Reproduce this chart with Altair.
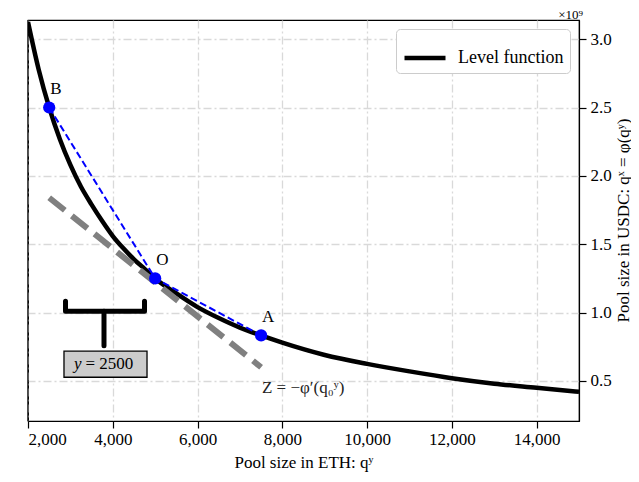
import altair as alt
import pandas as pd

FONT = "Liberation Serif"

# Level function (y in units of 1e9)
curve_x = [2000, 2250, 2500, 2750, 3000, 3250, 3500, 3750, 4000, 4250, 4500, 4750, 5000, 5500,
           6000, 6500, 7000, 7500, 8000, 9000, 10000, 11000, 12000, 13000, 14000, 15000]
curve_y = [3.125, 2.78, 2.50, 2.27, 2.08, 1.92, 1.79, 1.67, 1.56, 1.47, 1.39, 1.32, 1.25, 1.14,
           1.04, 0.96, 0.89, 0.833, 0.78, 0.69, 0.625, 0.57, 0.52, 0.48, 0.45, 0.42]

# Marked points
pt_label = ["B", "O", "A"]
pt_x = [2500, 5000, 7500]
pt_y = [2.50, 1.25, 0.833]

# Tangent line at O
tan_x = [2500, 7500]
tan_y = [1.84, 0.60]

# Bracket annotation
brk_x = [2885, 2885, 4749, 4749]
brk_y = [1.083, 1.010, 1.010, 1.083]
stem_x = [3793, 3793]
stem_y = [1.010, 0.758]
box_x = [2849, 4808]
box_y = [0.527, 0.718]
box_text_x = [3828]
box_text_y = [0.585]

# Tangent label
z_x = [7520]
z_y = [0.41]
z_text = ["Z = −φ′(q₀ʸ)"]

xscale = alt.Scale(domain=[2000, 15000], nice=False, zero=False)
yscale = alt.Scale(domain=[0.207, 3.14], nice=False, zero=False)

xaxis = alt.Axis(values=[2000, 4000, 6000, 8000, 10000, 12000, 14000], format=",.0f",
                 title="Pool size in ETH: qʸ", titleY=46, titleBaseline="alphabetic")
yaxis = alt.Axis(values=[0.5, 1.0, 1.5, 2.0, 2.5, 3.0], orient="right",
                 labelExpr="format(datum.value, '.1f')",
                 title="Pool size in USDC: qˣ = φ(qʸ)", titleAngle=270, titleX=44,
                 titleY=200, titleBaseline="middle", titleAlign="center")


def X(f):
    return alt.X(f, type="quantitative", scale=xscale, axis=xaxis)


def Y(f):
    return alt.Y(f, type="quantitative", scale=yscale, axis=yaxis)


curve_df = pd.DataFrame({"x": curve_x, "y": curve_y, "series": ["Level function"] * len(curve_x)})
curve = alt.Chart(curve_df).mark_line(strokeWidth=4.5, interpolate="monotone", clip=True).encode(
    x=X("x"), y=Y("y"),
    color=alt.Color("series:N", scale=alt.Scale(domain=["Level function"], range=["black"]),
                    legend=alt.Legend(title=None, orient="top-right", offset=9,
                                      symbolType="stroke", symbolStrokeWidth=4.5,
                                      symbolSize=1681, labelFontSize=18, labelFont=FONT,
                                      labelColor="black", labelOffset=10,
                                      fillColor="white", strokeColor="#cccccc",
                                      cornerRadius=4, padding=6))
)

tan_df = pd.DataFrame({"x": tan_x, "y": tan_y})
tangent = alt.Chart(tan_df).mark_line(color="#808080", strokeWidth=6, strokeDash=[20, 9]).encode(
    x=X("x"), y=Y("y"))

pts_df = pd.DataFrame({"x": pt_x, "y": pt_y, "label": pt_label, "order": [0, 1, 2]})
secant = alt.Chart(pts_df).mark_line(color="#0000ff", strokeWidth=2, strokeDash=[7, 3.5]).encode(
    x=X("x"), y=Y("y"), order="order:Q")
points = alt.Chart(pts_df).mark_circle(color="#0000ff", size=150, opacity=1).encode(
    x=X("x"), y=Y("y"))
pt_text = alt.Chart(pts_df).mark_text(align="left", baseline="alphabetic", dx=1, dy=-13.5,
                                      font=FONT, fontSize=17, color="black").encode(
    x=X("x"), y=Y("y"), text="label:N")

brk_df = pd.DataFrame({"x": brk_x, "y": brk_y, "o": [0, 1, 2, 3]})
bracket = alt.Chart(brk_df).mark_line(color="black", strokeWidth=5, strokeCap="round",
                                      strokeJoin="round").encode(
    x=X("x"), y=Y("y"), order="o:Q")
stem_df = pd.DataFrame({"x": stem_x, "y": stem_y, "o": [0, 1]})
stem = alt.Chart(stem_df).mark_line(color="black", strokeWidth=5, strokeCap="round").encode(
    x=X("x"), y=Y("y"), order="o:Q")

box_df = pd.DataFrame({"x": [box_x[0]], "x2": [box_x[1]], "y": [box_y[0]], "y2": [box_y[1]]})
box = alt.Chart(box_df).mark_rect(fill="#cccccc", stroke="black", strokeWidth=1.3).encode(
    x=X("x"), x2="x2", y=Y("y"), y2="y2")

bt_df = pd.DataFrame({"x": box_text_x, "y": box_text_y})
box_y_it = alt.Chart(bt_df).mark_text(align="right", baseline="alphabetic", dx=-24,
                                      font=FONT, fontSize=17, fontStyle="italic",
                                      color="black").encode(
    x=X("x"), y=Y("y"), text=alt.value("y"))
box_rest = alt.Chart(bt_df).mark_text(align="left", baseline="alphabetic", dx=-20,
                                      font=FONT, fontSize=17, color="black").encode(
    x=X("x"), y=Y("y"), text=alt.value("= 2500"))

z_df = pd.DataFrame({"x": z_x, "y": z_y, "t": z_text})
z_label = alt.Chart(z_df).mark_text(align="left", baseline="alphabetic", font=FONT,
                                    fontSize=17, color="#222222").encode(
    x=X("x"), y=Y("y"), text="t:N")

exp_label = alt.Chart(z_df).mark_text(align="right", baseline="alphabetic", font=FONT,
                                      fontSize=13, color="black").encode(
    x=alt.value(555), y=alt.value(-1), text=alt.value("×10⁹"))

# left frame edge drawn above the grid
left_edge = alt.Chart(z_df).mark_rule(color="black", strokeWidth=1.2).encode(
    x=alt.value(0), y=alt.value(0), y2=alt.value(401))

chart = alt.layer(
    curve, tangent, secant, points, pt_text, bracket, stem, box, box_y_it, box_rest, z_label,
    exp_label, left_edge
).properties(
    width=551, height=401,
    autosize=alt.AutoSizeParams(type="none"),
    padding={"left": 20, "top": 12, "right": 52, "bottom": 52},
).configure_view(
    stroke="black", strokeWidth=1.2
).configure_axis(
    labelFont=FONT, labelFontSize=17, labelColor="black",
    titleFont=FONT, titleFontSize=17, titleFontWeight="normal", titleColor="black",
    domainColor="black", domainWidth=1.2, tickColor="black", tickSize=7, tickWidth=1.2,
    labelPadding=3, grid=True, gridColor="#d9d9d9", gridDash=[8, 3, 2, 3], gridWidth=1.3,
).configure_axisY(labelPadding=4)

chart.save("out.html", embed_options={"renderer": "svg", "actions": False})
